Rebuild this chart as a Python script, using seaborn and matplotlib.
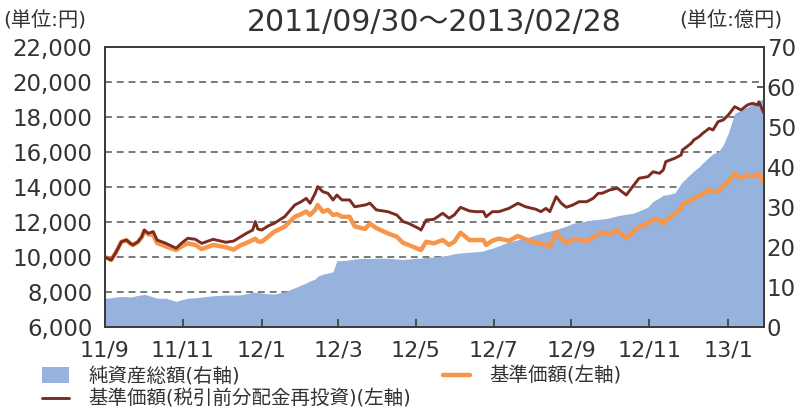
import pandas as pd
import seaborn as sns
import matplotlib.pyplot as plt
from matplotlib.lines import Line2D
from matplotlib.patches import Patch
from matplotlib.ticker import FuncFormatter

# データ
dates = [
    "2011-09-30", "2011-10-05", "2011-10-09", "2011-10-13", "2011-10-17", "2011-10-20", "2011-10-22", "2011-10-26", "2011-10-29", "2011-10-31",
    "2011-11-03", "2011-11-07", "2011-11-10", "2011-11-17", "2011-11-25", "2011-11-29", "2011-12-04", "2011-12-10", "2011-12-15", "2011-12-24",
    "2012-01-03", "2012-01-09", "2012-01-14", "2012-01-19", "2012-01-24", "2012-01-26", "2012-01-28", "2012-01-31", "2012-02-05", "2012-02-10",
    "2012-02-18", "2012-02-26", "2012-03-02", "2012-03-06", "2012-03-09", "2012-03-13", "2012-03-15", "2012-03-19", "2012-03-23", "2012-03-27",
    "2012-03-30", "2012-04-03", "2012-04-09", "2012-04-13", "2012-04-21", "2012-04-25", "2012-04-30", "2012-05-09", "2012-05-16", "2012-05-21",
    "2012-05-25", "2012-06-02", "2012-06-04", "2012-06-08", "2012-06-14", "2012-06-21", "2012-06-26", "2012-06-30", "2012-07-05", "2012-07-12",
    "2012-07-17", "2012-07-23", "2012-07-25", "2012-07-30", "2012-08-04", "2012-08-12", "2012-08-19", "2012-08-25", "2012-09-02", "2012-09-06",
    "2012-09-10", "2012-09-13", "2012-09-18", "2012-09-22", "2012-09-26", "2012-10-01", "2012-10-06", "2012-10-12", "2012-10-17", "2012-10-21",
    "2012-10-24", "2012-10-30", "2012-11-05", "2012-11-12", "2012-11-17", "2012-11-22", "2012-11-29", "2012-12-03", "2012-12-08", "2012-12-11",
    "2012-12-13", "2012-12-20", "2012-12-25", "2012-12-26", "2013-01-02", "2013-01-04", "2013-01-08", "2013-01-11", "2013-01-16", "2013-01-19",
    "2013-01-23", "2013-01-27", "2013-01-31", "2013-02-05", "2013-02-10", "2013-02-15", "2013-02-19", "2013-02-23", "2013-02-24", "2013-02-28",
]

# 基準価額（税引前分配金再投資）（円）
reinvested = [
    10000, 9830, 10300, 10870, 10970, 10780, 10690, 10870, 11160, 11540,
    11350, 11450, 10970, 10780, 10500, 10780, 11070, 11010, 10780, 11010,
    10840, 10910, 11130, 11350, 11540, 12020, 11600, 11540, 11770, 11930,
    12300, 12970, 13160, 13350, 13070, 13640, 14020, 13730, 13640, 13260,
    13540, 13260, 13260, 12870, 12970, 13070, 12690, 12590, 12400, 12020,
    11930, 11640, 11540, 12110, 12150, 12500, 12210, 12400, 12840, 12630,
    12590, 12590, 12300, 12590, 12590, 12780, 13070, 12870, 12730, 12590,
    12780, 12590, 13450, 13070, 12840, 12970, 13160, 13160, 13350, 13640,
    13640, 13830, 13930, 13540, 14020, 14500, 14590, 14870, 14780, 14970,
    15450, 15640, 15830, 16110, 16500, 16690, 16870, 17070, 17350, 17260,
    17730, 17830, 18110, 18590, 18400, 18690, 18780, 18690, 18870, 18210,
]

# 基準価額（円）
base_price = [
    10000, 9830, 10300, 10870, 10960, 10770, 10680, 10850, 11140, 11500,
    11300, 11260, 10800, 10600, 10400, 10600, 10780, 10690, 10450, 10690,
    10560, 10420, 10650, 10800, 10970, 11050, 10900, 10870, 11150, 11450,
    11730, 12300, 12450, 12600, 12400, 12700, 12970, 12590, 12690, 12400,
    12450, 12300, 12300, 11750, 11600, 11900, 11650, 11350, 11160, 10800,
    10700, 10450, 10400, 10870, 10780, 10970, 10690, 10870, 11390, 10970,
    10970, 10970, 10690, 10930, 11050, 10930, 11200, 11010, 10820, 10750,
    10690, 10600, 11390, 11050, 10800, 11000, 11000, 10900, 11130, 11300,
    11400, 11300, 11540, 11070, 11450, 11700, 11930, 12150, 12100, 11930,
    12100, 12450, 12780, 13000, 13250, 13350, 13500, 13600, 13830, 13750,
    13730, 14050, 14300, 14780, 14500, 14690, 14600, 14700, 14780, 14210,
]

# 純資産総額（億円）
net_assets = [
    7.2, 7.3, 7.5, 7.6, 7.6, 7.5, 7.6, 7.9, 8.0, 8.2,
    7.9, 7.5, 7.2, 7.2, 6.4, 6.8, 7.2, 7.3, 7.5, 7.8,
    8.0, 8.0, 8.0, 8.3, 8.7, 8.7, 8.6, 8.5, 8.3, 8.25,
    8.8, 9.8, 10.5, 11.0, 11.5, 12.0, 12.7, 13.2, 13.5, 13.8,
    16.6, 16.6, 16.8, 17.0, 17.2, 17.1, 17.2, 17.2, 17.0, 16.9,
    17.0, 17.2, 17.2, 17.4, 17.5, 17.75, 18.0, 18.3, 18.5, 18.7,
    18.8, 19.0, 19.3, 19.7, 20.3, 21.3, 21.8, 22.2, 23.0, 23.4,
    23.8, 24.0, 24.4, 24.8, 25.2, 25.9, 26.2, 26.5, 26.8, 26.9,
    27.0, 27.3, 27.8, 28.2, 28.4, 29.0, 30.0, 31.4, 32.3, 33.0,
    33.0, 33.5, 35.9, 36.3, 38.4, 39.0, 40.0, 41.0, 42.5, 43.3,
    43.8, 45.5, 48.5, 53.4, 54.2, 55.0, 55.7, 56.2, 56.6, 57.1,
]

tick_dates = ["2011-09-30", "2011-11-30", "2012-01-31", "2012-03-31", "2012-05-31",
              "2012-07-31", "2012-09-30", "2012-11-30", "2013-01-31"]
tick_labels = ["11/9", "11/11", "12/1", "12/3", "12/5", "12/7", "12/9", "12/11", "13/1"]

left_ticks = list(range(6000, 22001, 2000))
right_ticks = list(range(0, 71, 10))
grid_levels = list(range(8000, 20001, 2000))

title = "2011/09/30～2013/02/28"
labels = ["純資産総額(右軸)", "基準価額(税引前分配金再投資)(左軸)", "基準価額(左軸)"]

BLUE = "#95b3dd"
ORANGE = "#f7954a"
DARKRED = "#7a2c22"
TEXT = "#333333"
AXIS = "#3c3c3c"

df = pd.DataFrame({"日付": pd.to_datetime(dates),
                   "基準価額": base_price,
                   "再投資": reinvested,
                   "純資産総額": net_assets})

sns.set_theme(style="white")
plt.rcParams["font.family"] = ["DejaVu Sans", "Noto Sans CJK JP"]

fig = plt.figure(figsize=(8, 4.09), dpi=100)
ax = fig.add_axes([0.131, 0.2005, 0.824, 0.6846])
ax2 = ax.twinx()
ax.set_zorder(2)
ax2.set_zorder(1)
ax.patch.set_visible(False)

# 純資産総額（右軸, 塗りつぶし）
ax2.fill_between(df["日付"], 0, df["純資産総額"], color=BLUE, linewidth=0, zorder=2)

# 左軸の破線グリッド（塗りの下に描く）
for lv in grid_levels:
    ax2.plot([0, 1], [lv, lv], transform=ax.get_yaxis_transform(),
             color="#555555", lw=1.1, linestyle=(0, (4.5, 3.2)), zorder=1)

sns.lineplot(data=df, x="日付", y="基準価額", ax=ax, color=ORANGE, linewidth=3.2)
sns.lineplot(data=df, x="日付", y="再投資", ax=ax, color=DARKRED, linewidth=2.1)

ax.set_xlim(pd.Timestamp("2011-09-30"), pd.Timestamp("2013-02-28"))
ax.set_ylim(6000, 22000)
ax2.set_ylim(0, 70)

ax.set_xticks(pd.to_datetime(tick_dates))
ax.set_xticklabels(tick_labels)
ax.set_yticks(left_ticks)
ax.yaxis.set_major_formatter(FuncFormatter(lambda v, p: f"{int(v):,}"))
ax2.set_yticks(right_ticks)

ax.set_xlabel("")
ax.set_ylabel("")
ax2.set_ylabel("")

ax.tick_params(axis="x", direction="in", length=6, width=1.2, color=AXIS,
               labelsize=16, labelcolor=TEXT, pad=10, bottom=True)
ax.tick_params(axis="y", length=0, labelsize=16.5, labelcolor=TEXT, pad=9)
ax2.tick_params(axis="y", direction="in", length=5, width=1.2, color=AXIS,
                labelsize=16.5, labelcolor=TEXT, pad=2, right=True)

for a in (ax, ax2):
    for s in a.spines.values():
        s.set_visible(True)
        s.set_color(AXIS)
        s.set_linewidth(1.3)

fig.text(0.5425, 0.945, title, ha="center", va="center", fontsize=21.5, color=TEXT,
         family=["DejaVu Sans", "Noto Sans CJK JP"])
fig.text(0.004, 0.948, "(単位:円)", ha="left", va="center", fontsize=14.5, color=TEXT)
fig.text(0.849, 0.948, "(単位:億円)", ha="left", va="center", fontsize=14.5, color=TEXT)

handles = [Patch(facecolor=BLUE, edgecolor="none"),
           Line2D([], [], color=DARKRED, lw=2.1),
           Line2D([], [], color=ORANGE, lw=3.2)]
fig.legend(handles, labels, ncol=2, loc="upper left", bbox_to_anchor=(0.0525, 0.103),
           frameon=False, fontsize=14, handlelength=1.4, handleheight=0.85,
           handletextpad=1.0, columnspacing=1.6, labelspacing=0.2,
           borderpad=0, borderaxespad=0, labelcolor=TEXT)

fig.savefig("out.png", dpi=100)
